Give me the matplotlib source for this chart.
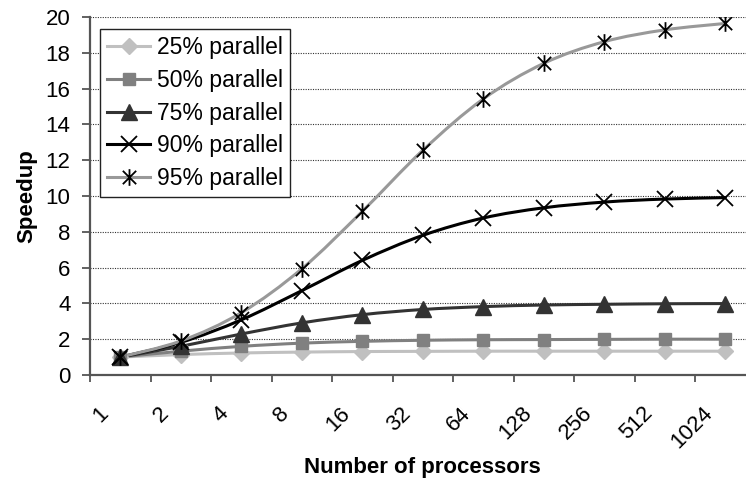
import numpy as np
import matplotlib
matplotlib.use("Agg")
import matplotlib.pyplot as plt
from matplotlib.path import Path
from matplotlib.patches import PathPatch
from matplotlib.lines import Line2D
import matplotlib.transforms as mtransforms

plt.rcParams['font.family'] = ['Liberation Sans', 'DejaVu Sans']

processors = ['1', '2', '4', '8', '16', '32', '64', '128', '256', '512', '1024']

speedup_25 = [1.00, 1.14, 1.23, 1.28, 1.31, 1.32, 1.33, 1.33, 1.33, 1.33, 1.33]
speedup_50 = [1.00, 1.33, 1.60, 1.78, 1.88, 1.94, 1.97, 1.98, 1.99, 2.00, 2.00]
speedup_75 = [1.00, 1.60, 2.29, 2.91, 3.37, 3.66, 3.82, 3.91, 3.95, 3.98, 3.99]
speedup_90 = [1.00, 1.82, 3.08, 4.71, 6.40, 7.80, 8.77, 9.34, 9.66, 9.83, 9.91]
speedup_95 = [1.00, 1.90, 3.48, 5.93, 9.14, 12.55, 15.42, 17.41, 18.62, 19.28, 19.64]

labels = ['25% parallel', '50% parallel', '75% parallel', '90% parallel', '95% parallel']

# excel-style star: an X with a vertical bar through it
star = Path([(-1, -1), (1, 1), (-1, 1), (1, -1), (0, -1.25), (0, 1.25)],
            [Path.MOVETO, Path.LINETO, Path.MOVETO, Path.LINETO, Path.MOVETO, Path.LINETO])

series = [
    (speedup_25, '#c0c0c0', 'D', 8.5, '#c0c0c0'),
    (speedup_50, '#808080', 's', 9, '#808080'),
    (speedup_75, '#333333', '^', 11, '#333333'),
    (speedup_90, '#000000', 'x', 12, '#000000'),
    (speedup_95, '#999999', star, 12, '#000000'),
]


def smooth_path(xs, ys):
    # catmull-rom style bezier through every point
    pts = np.column_stack([xs, ys])
    n = len(pts)
    verts = [pts[0]]
    codes = [Path.MOVETO]
    for i in range(n - 1):
        p0 = pts[i - 1] if i > 0 else pts[i]
        p1 = pts[i]
        p2 = pts[i + 1]
        p3 = pts[i + 2] if i + 2 < n else pts[i + 1]
        c1 = p1 + (p2 - p0) / 6.0
        c2 = p2 - (p3 - p1) / 6.0
        verts += [c1, c2, p2]
        codes += [Path.CURVE4] * 3
    return Path(verts, codes)


fig = plt.figure(figsize=(7.46, 4.83), dpi=100)
ax = fig.add_axes([90 / 746, 108 / 483, 665.5 / 746, 358 / 483])

x = np.arange(len(processors))
handles = []
for (vals, color, marker, ms, mcolor), lab in zip(series, labels):
    ax.add_patch(PathPatch(smooth_path(x, vals), facecolor='none', edgecolor=color,
                           lw=2.2, zorder=3, capstyle='round'))
    line_kw = dict(marker=marker, markersize=ms, color=color,
                   markerfacecolor=mcolor, markeredgecolor=mcolor)
    if marker == 'x' or marker is star:
        line_kw.update(markeredgewidth=1.3, markerfacecolor='none')
    ax.plot(x, vals, linestyle='none', zorder=4, **line_kw)
    handles.append(Line2D([], [], lw=2.2, label=lab, **line_kw))

ax.set_xlim(-0.5, 10.5)
ax.set_ylim(0, 20)
ax.set_yticks(np.arange(0, 21, 2))
ax.yaxis.grid(True, color='#333333', linestyle=(0, (1, 1.2)), linewidth=0.8)
ax.set_axisbelow(True)

ax.set_xticks(x)
ax.set_xticklabels(processors, rotation=45, ha='right', va='top')
ax.set_xticks(np.arange(-0.5, 11, 1), minor=True)
ax.tick_params(axis='x', which='major', length=0, pad=20, labelsize=16)
ax.tick_params(axis='x', which='minor', length=5, width=1.3, color='#555555', direction='out')
ax.tick_params(axis='y', length=6, width=1.3, color='#555555', direction='out', labelsize=16, pad=8)

shift = mtransforms.ScaledTranslation(-8 / 100, 0, fig.dpi_scale_trans)
for t in ax.get_xticklabels():
    t.set_transform(t.get_transform() + shift)

for side in ['top', 'right']:
    ax.spines[side].set_visible(False)
for side in ['left', 'bottom']:
    ax.spines[side].set_color('#555555')
    ax.spines[side].set_linewidth(1.6)

ax.set_ylabel('Speedup', fontsize=16, fontweight='bold', labelpad=6)
ax.set_xlabel('Number of processors', fontsize=16, fontweight='bold', va='center')
ax.xaxis.set_label_coords(0.5, -92 / 358)

leg = ax.legend(handles=handles, loc='upper left', bbox_to_anchor=(10 / 665.5, 346 / 358),
                borderaxespad=0, fontsize=16.5, frameon=True, fancybox=False,
                edgecolor='#222222', framealpha=1, labelspacing=0.43, handlelength=1.9,
                handletextpad=0.3, borderpad=0.3)
leg.get_frame().set_linewidth(1.0)

fig.savefig('out.png', dpi=100)
